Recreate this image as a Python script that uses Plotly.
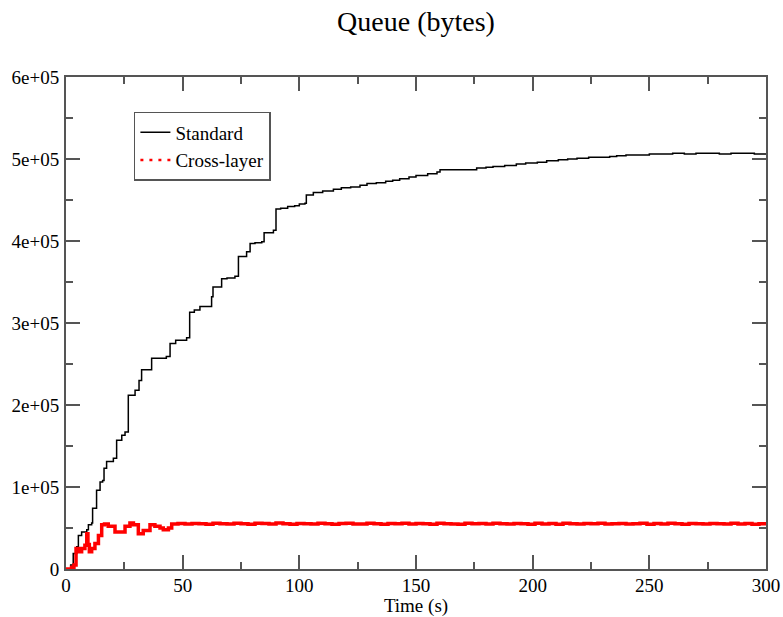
import plotly.graph_objects as go

# ---------------- data ----------------
std_t = [0, 2, 3.1, 4.6, 5.3, 6.7, 8.9, 9.6, 11, 11.4, 12.4, 13.1, 14.6, 15.7, 16.3, 17.4,
         20.3, 21.7, 23.9, 25.3, 26.7, 29.6, 31.3, 32.4, 36.7, 43, 44.6, 47, 51.7, 53, 55,
         57.4, 60.3, 62.4, 63, 66.7, 69, 72.4, 73.9, 77.4, 78.9, 81, 83.9, 84.9, 88.9, 90,
         92, 95, 98, 100, 102.4, 103, 106, 110, 114.6, 118, 122, 126, 129, 133, 137, 140,
         143, 147, 150, 155, 159, 160.3, 165, 171.7, 176, 180, 183, 188, 193, 197, 202,
         206, 211, 215, 219, 224, 229, 233, 236, 240, 245, 250, 255, 260, 265, 270, 275,
         280, 285, 290, 295, 300]
std_q = [0, 5000, 19000, 27000, 41000, 45000, 48000, 54000, 56000, 74000, 74000, 96000,
         106000, 108000, 123000, 131000, 135000, 157000, 163000, 167000, 212000, 218000,
         230000, 243000, 257000, 259000, 275000, 279000, 282000, 313000, 316000, 320000,
         320000, 332000, 344000, 354000, 355000, 357000, 381000, 387000, 397000, 398000,
         399000, 410000, 413000, 439000, 440000, 442000, 443000, 445000, 446000, 456000,
         459000, 461000, 463000, 465000, 466000, 468000, 470000, 471000, 473000, 474000,
         476000, 478000, 480000, 482000, 484000, 487000, 487000, 487000, 489000, 490000,
         491000, 492000, 494000, 495000, 496000, 498000, 499000, 500000, 501000, 502000,
         502000, 503000, 504000, 505000, 505000, 506000, 506000, 507000, 506000, 507000,
         507000, 506000, 507000, 507000, 506000, 507000]

cl_t = [0, 2.4, 3.4, 4.3, 5.3, 6.7, 8.1, 8.9, 9.4, 10, 11, 12.4, 13.9, 15.3, 16.5, 18.1,
        19.6, 21, 23.1, 25.3, 27.4, 28.9, 31, 33.1, 36, 38.1, 40.3, 41.7, 43.9, 45.3,
        48, 51, 54, 57, 60, 63, 66, 69, 72, 75, 78, 81, 84, 87, 90, 93, 96, 99, 102, 105,
        108, 111, 114, 117, 120, 123, 126, 129, 132, 135, 138, 141, 144, 147, 150, 153,
        156, 159, 162, 165, 168, 171, 174, 177, 180, 183, 186, 189, 192, 195, 198, 201,
        204, 207, 210, 213, 216, 219, 222, 225, 228, 231, 234, 237, 240, 243, 246, 249,
        252, 255, 258, 261, 264, 267, 270, 273, 276, 279, 282, 285, 288, 291, 294, 297, 300]
cl_q_k = [0, 2, 5, 25, 21, 25, 29, 43, 30, 21, 25, 31, 41, 54, 55, 52, 52, 45, 45, 52, 56,
          54, 43, 47, 54, 52, 50, 48, 50, 55,
          55.5, 54.8, 55.6, 55.2, 54.6, 55.9, 55.3, 54.9, 55.7, 55.1,
          54.5, 55.8, 55.4, 55.0, 56.2, 55.3, 54.7, 55.6, 55.2, 54.9,
          55.8, 55.1, 54.6, 55.5, 55.9, 55.0, 54.8, 55.7, 55.3, 54.5,
          55.6, 55.2, 55.9, 54.9, 55.4, 55.1, 54.7, 55.8, 55.3, 55.0,
          54.6, 55.7, 55.2, 55.5, 54.8, 55.9, 55.1, 54.9, 55.6, 55.3,
          54.7, 55.8, 55.0, 55.4, 54.6, 55.7, 55.2, 54.9, 55.5, 55.1,
          55.8, 54.8, 55.3, 55.6, 54.9, 55.2, 55.7, 54.6, 55.4, 55.0,
          55.9, 55.1, 54.7, 55.5, 55.3, 54.8, 55.6, 55.2, 54.9, 55.7,
          55.0, 55.4, 54.6, 55.3, 55.0]
cl_q = [v * 1000 for v in cl_q_k]

y_tickvals = [0, 100000, 200000, 300000, 400000, 500000, 600000]
y_ticktext = ["0", "1e+05", "2e+05", "3e+05", "4e+05", "5e+05", "6e+05"]
y_minorvals = [50000, 150000, 250000, 350000, 450000, 550000]

FONT = "Liberation Serif, Times New Roman, serif"
AXC = "#555555"

fig = go.Figure()
fig.add_trace(go.Scatter(x=std_t, y=std_q, mode="lines", name="Standard",
                         line=dict(color="black", width=1.5, shape="hv")))
fig.add_trace(go.Scatter(x=cl_t, y=cl_q, mode="lines", name="Cross-layer", showlegend=False,
                         line=dict(color="#ff0000", width=3.5, shape="hv")))
fig.add_trace(go.Scatter(x=[None], y=[None], mode="lines", name="Cross-layer",
                         line=dict(color="#ff0000", width=2.5, dash="3px,6px")))

axis_common = dict(showline=True, linecolor=AXC, linewidth=2, mirror="allticks",
                   ticks="inside", ticklen=14, tickwidth=2, tickcolor=AXC,
                   showgrid=False, zeroline=False, automargin=False,
                   tickfont=dict(family=FONT, size=19, color="black"))

fig.update_xaxes(range=[0, 300], dtick=50, tick0=0,
                 minor=dict(dtick=25, ticks="inside", ticklen=7, tickwidth=2, tickcolor=AXC),
                 title=dict(text="Time (s)", font=dict(family=FONT, size=19, color="black"), standoff=0),
                 ticklabelstandoff=-2,
                 **axis_common)
fig.update_yaxes(range=[0, 600000], tickmode="array", tickvals=y_tickvals, ticktext=y_ticktext,
                 minor=dict(tickmode="array", tickvals=y_minorvals, ticks="inside", ticklen=7,
                            tickwidth=2, tickcolor=AXC),
                 ticklabelstandoff=1,
                 **axis_common)

fig.update_layout(
    width=783, height=617,
    margin=dict(l=66, r=17, t=77, b=48),
    paper_bgcolor="white", plot_bgcolor="white",
    title=dict(text="Queue (bytes)", x=0.5, xref="paper", xanchor="center",
               y=1 - 21 / 617, yref="container", yanchor="middle",
               font=dict(family=FONT, size=28, color="black")),
    legend=dict(x=0.097, y=0.929, xanchor="left", yanchor="top",
                bordercolor=AXC, borderwidth=1.5, bgcolor="white",
                font=dict(family=FONT, size=19, color="black"),
                tracegroupgap=0),
    showlegend=True,
)

fig.write_html("out.html", config={"displayModeBar": False},
               post_script="document.body.style.margin='0';document.body.style.overflow='hidden';")
